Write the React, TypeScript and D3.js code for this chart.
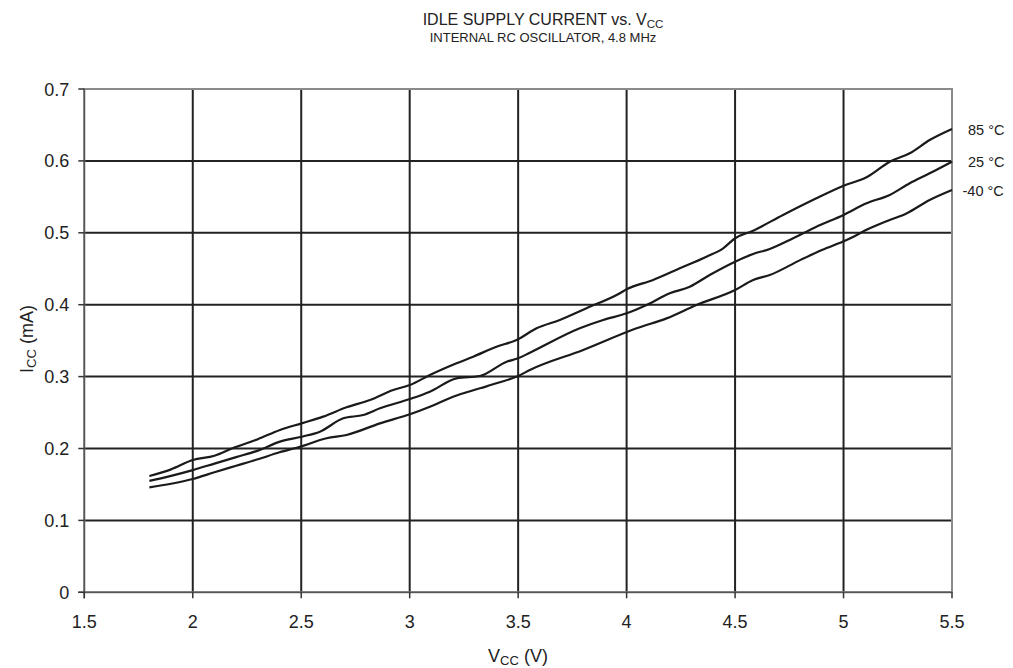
import React from "react";
import * as d3 from "d3";

const xTicks = [1.5, 2, 2.5, 3, 3.5, 4, 4.5, 5, 5.5];
const yTicks = [0, 0.1, 0.2, 0.3, 0.4, 0.5, 0.6, 0.7];

const v85: [number, number][] = [
  [1.8, 0.1617], [1.9, 0.171], [2.0, 0.184], [2.1, 0.19], [2.18, 0.2], [2.3, 0.213], [2.402, 0.2257],
  [2.502, 0.235], [2.601, 0.2443], [2.709, 0.2573], [2.817, 0.2675], [2.924, 0.2814], [3.001, 0.2883],
  [3.093, 0.3022], [3.216, 0.3185], [3.293, 0.3277], [3.4, 0.3416], [3.493, 0.3509], [3.585, 0.3672],
  [3.692, 0.3787], [3.815, 0.395], [3.969, 0.4159], [4.0, 0.4214], [4.122, 0.4344], [4.245, 0.4506],
  [4.368, 0.4668], [4.445, 0.4784], [4.5, 0.4924], [4.583, 0.503], [4.721, 0.5248], [4.875, 0.548],
  [5.0, 0.5655], [5.106, 0.5772], [5.213, 0.5989], [5.305, 0.6106], [5.397, 0.629], [5.5, 0.6444],
];
const v25: [number, number][] = [
  [1.8, 0.155], [1.9, 0.162], [2.0, 0.17], [2.1, 0.179], [2.2, 0.188], [2.3, 0.197], [2.402, 0.2095],
  [2.502, 0.2164], [2.586, 0.2234], [2.694, 0.242], [2.786, 0.2466], [2.863, 0.2559], [3.001, 0.2688],
  [3.093, 0.279], [3.216, 0.2976], [3.324, 0.3008], [3.447, 0.3207], [3.5, 0.3254], [3.554, 0.3332],
  [3.784, 0.3672], [3.892, 0.3787], [4.0, 0.388], [4.092, 0.3996], [4.199, 0.4159], [4.291, 0.425],
  [4.383, 0.4413], [4.5, 0.4598], [4.583, 0.4705], [4.66, 0.4775], [4.752, 0.49], [4.875, 0.5085],
  [5.0, 0.5248], [5.106, 0.541], [5.213, 0.5526], [5.305, 0.5688], [5.397, 0.5827], [5.5, 0.599],
];
const vm40: [number, number][] = [
  [1.8, 0.146], [1.9, 0.151], [2.0, 0.1576], [2.1, 0.167], [2.2, 0.176], [2.3, 0.185], [2.4, 0.1947],
  [2.494, 0.2025], [2.617, 0.2142], [2.709, 0.2188], [2.863, 0.235], [3.001, 0.2476], [3.093, 0.2581],
  [3.2, 0.272], [3.324, 0.2837], [3.4, 0.2907], [3.5, 0.3008], [3.554, 0.3092], [3.8, 0.337],
  [4.046, 0.3672], [4.184, 0.381], [4.322, 0.3996], [4.5, 0.4204], [4.583, 0.4344], [4.66, 0.4413],
  [4.8, 0.462], [4.9, 0.476], [5.014, 0.49], [5.121, 0.5063], [5.213, 0.5178], [5.29, 0.527],
  [5.397, 0.5456], [5.5, 0.5595],
];
const seriesLabels = ["85 °C", "25 °C", "-40 °C"];

const FONT = "'Liberation Sans', Arial, sans-serif";

export default function App() {
  const left = 84.3, right = 952, top = 89, bottom = 592.3;
  const x = d3.scaleLinear().domain([1.5, 5.5]).range([left, right]);
  const y = d3.scaleLinear().domain([0, 0.7]).range([bottom, top]);
  const line = d3.line<[number, number]>().x(d => x(d[0])).y(d => y(d[1])).curve(d3.curveMonotoneX);
  const series = [v85, v25, vm40];
  const labelPos = [[968, 135], [968, 166.5], [962.5, 196]];

  return (
    <svg width={1013} height={668} style={{ position: "absolute", left: 0, top: 0, background: "#fff" }}>
      <g fontFamily={FONT} fill="#222">
        <text x={543} y={25} textAnchor="middle" fontSize={16}>
          IDLE SUPPLY CURRENT vs. V<tspan fontSize={11.5} dy={3}>CC</tspan>
        </text>
        <text x={543} y={42} textAnchor="middle" fontSize={13}>INTERNAL RC OSCILLATOR, 4.8 MHz</text>
      </g>
      {xTicks.slice(1, -1).map(t => (
        <line key={"gx" + t} x1={x(t)} x2={x(t)} y1={top} y2={bottom} stroke="#222" strokeWidth={2} />
      ))}
      {yTicks.slice(1, -1).map(t => (
        <line key={"gy" + t} x1={left} x2={right} y1={y(t)} y2={y(t)} stroke="#222" strokeWidth={2} />
      ))}
      <rect x={left} y={top} width={right - left} height={bottom - top} fill="none" stroke="#8a8a8a" strokeWidth={2} />
      <line x1={left} x2={left} y1={top} y2={bottom + 6} stroke="#555" strokeWidth={1.5} />
      <line x1={left - 6} x2={right} y1={bottom} y2={bottom} stroke="#555" strokeWidth={1.5} />
      {yTicks.map(t => (
        <g key={"ty" + t}>
          <line x1={left - 6} x2={left} y1={y(t)} y2={y(t)} stroke="#333" strokeWidth={1.5} />
          <text x={left - 15} y={y(t) + 6.5} textAnchor="end" fontSize={18} fontFamily={FONT} fill="#222">
            {d3.format("")(t)}
          </text>
        </g>
      ))}
      {xTicks.map(t => (
        <g key={"tx" + t}>
          <line x1={x(t)} x2={x(t)} y1={bottom} y2={bottom + 6} stroke="#333" strokeWidth={1.5} />
          <text x={x(t)} y={bottom + 36} textAnchor="middle" fontSize={18} fontFamily={FONT} fill="#222">
            {d3.format("")(t)}
          </text>
        </g>
      ))}
      {series.map((s, i) => (
        <path key={"s" + i} d={line(s) || ""} fill="none" stroke="#1a1a1a" strokeWidth={2.2} />
      ))}
      {seriesLabels.map((l, i) => (
        <text key={l} x={labelPos[i][0]} y={labelPos[i][1]} fontSize={14.5} fontFamily={FONT} fill="#222">{l}</text>
      ))}
      <text x={518} y={662} textAnchor="middle" fontSize={18} fontFamily={FONT} fill="#222">
        V<tspan fontSize={13} dy={3}>CC</tspan><tspan dy={-3}> (V)</tspan>
      </text>
      <text transform={`translate(33,339) rotate(-90)`} textAnchor="middle" fontSize={18} fontFamily={FONT} fill="#222">
        I<tspan fontSize={13} dy={3}>CC</tspan><tspan dy={-3}> (mA)</tspan>
      </text>
    </svg>
  );
}
